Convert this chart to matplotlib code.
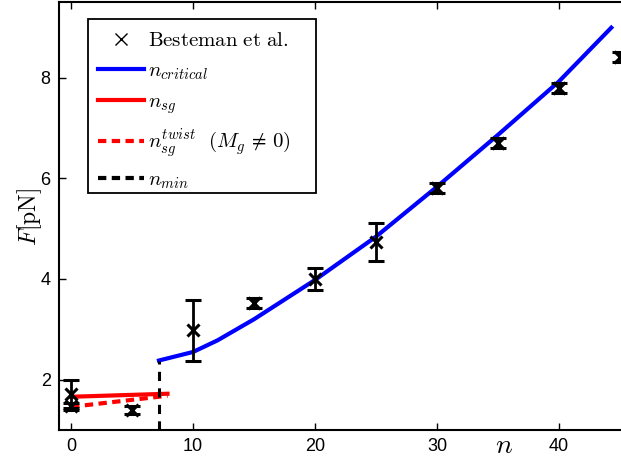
import matplotlib
matplotlib.use("Agg")
import matplotlib.pyplot as plt
from matplotlib.lines import Line2D
from matplotlib.patches import Rectangle

plt.rcParams['mathtext.fontset'] = 'cm'
plt.rcParams['font.family'] = ['Liberation Sans', 'DejaVu Sans']

# Experimental data (Besteman et al.)
n_exp = [0, 0, 5, 10, 15, 20, 25, 30, 35, 40, 45]
F_exp = [1.72, 1.47, 1.40, 2.98, 3.52, 4.00, 4.74, 5.80, 6.70, 7.80, 8.40]
F_err = [0.28, 0.07, 0.08, 0.60, 0.10, 0.22, 0.38, 0.10, 0.10, 0.10, 0.10]

# n_critical curve
n_crit = [7.2, 10, 12, 15, 20, 25, 30, 35, 40, 44.3]
F_crit = [2.38, 2.55, 2.78, 3.20, 3.98, 4.84, 5.83, 6.86, 7.92, 8.99]

# n_sg and twisted variant
n_sg = [0, 7.9]
F_sg = [1.66, 1.72]
n_tw = [0, 7.9]
F_tw = [1.46, 1.68]

# n_min marker line
n_min = [7.2, 7.2]
F_min = [1.0, 2.38]

xticks = [0, 10, 20, 30, 40]
yticks = [2, 4, 6, 8]

fig = plt.figure(figsize=(6.21, 4.59), dpi=100)
W, H = 621, 459
ax = fig.add_axes([59 / W, 1 - 430 / H, (632 - 59) / W, (430 - 2) / H])

ax.errorbar(n_exp, F_exp, yerr=F_err, fmt='x', color='black', ecolor='black',
            elinewidth=2, capsize=6, capthick=2, ms=9, mew=2.2, zorder=3)
ax.plot(n_crit, F_crit, color='#0000ff', lw=3, zorder=2)
ax.plot(n_sg, F_sg, color='#ff0000', lw=3, zorder=2)
ax.plot(n_tw, F_tw, color='#ff0000', lw=3, ls=(0, (2.0, 1.3)), zorder=2)
ax.plot(n_min, F_min, color='black', lw=2.2, ls=(0, (3.0, 2.4)), zorder=2)

ax.set_xlim(-1, 46)
ax.set_ylim(1, 9.5)
ax.set_xticks(xticks)
ax.set_yticks(yticks)
ax.tick_params(direction='in', length=5, width=1, labelsize=13, top=True, right=True,
               pad=6)
for s in ax.spines.values():
    s.set_linewidth(1.5)

fig.text(30 / W, 1 - 217 / H, r'$F[\mathrm{pN}]$', rotation=90, fontsize=17,
         ha='center', va='center')
fig.text(504 / W, 1 - 446 / H, r'$n$', fontsize=20, ha='center', va='center')

# legend frame drawn to match the reference box
frame = Rectangle((88 / W, 1 - 193 / H), (316 - 88) / W, (193 - 19) / H,
                  transform=fig.transFigure, facecolor='white', edgecolor='black',
                  lw=1.3, zorder=4)
fig.add_artist(frame)

handles = [
    Line2D([], [], ls='none', marker='x', color='black', ms=9, mew=1),
    Line2D([], [], color='#0000ff', lw=3),
    Line2D([], [], color='#ff0000', lw=3),
    Line2D([], [], color='#ff0000', lw=3, ls=(0, (2.0, 1.3))),
    Line2D([], [], color='black', lw=3, ls=(0, (2.0, 1.3))),
]
labels = [
    r'$\mathrm{Besteman\ et\ al.}$',
    r'$n_{critical}$',
    r'$n_{sg}$',
    r'$n_{sg}^{twist}\ \ (M_g\,\neq\,0)$',
    r'$n_{min}$',
]
leg = fig.legend(handles, labels, loc='upper left',
                 bbox_to_anchor=(88 / W, 1 - 21 / H),
                 borderaxespad=0, fontsize=15, handlelength=2.2, handletextpad=0.2,
                 frameon=False, labelspacing=0.52, borderpad=0.5)
leg.set_zorder(5)

fig.savefig('out.png', dpi=100)
